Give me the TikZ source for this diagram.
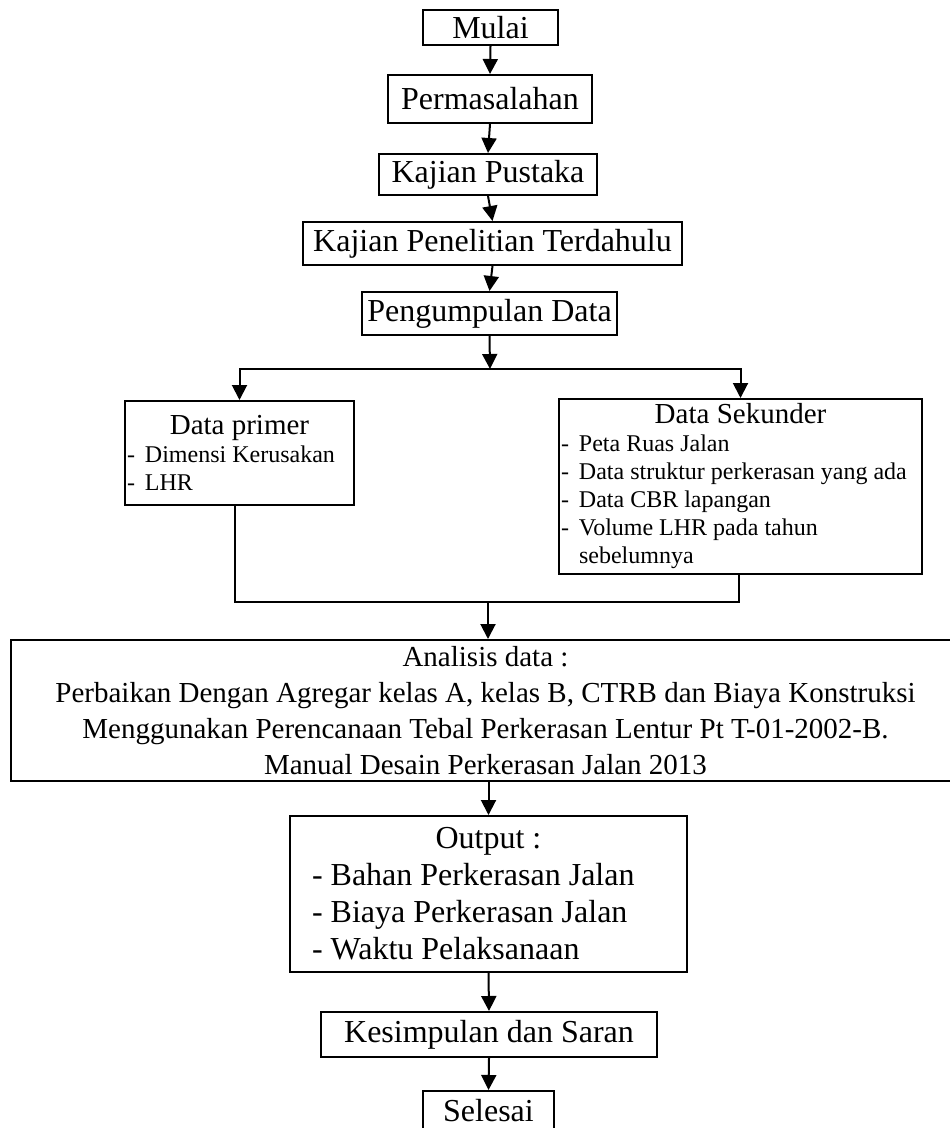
\documentclass[tikz,border=0pt]{standalone}
\usepackage{fontspec}
\setmainfont{Liberation Serif}
\usetikzlibrary{arrows.meta, positioning}

\newcommand\judul{\fontsize{14.5}{14}\selectfont}
\newcommand\isi{\fontsize{12}{14}\selectfont}
\newcommand\butir{\makebox[9pt][l]{-}}
\newcommand\polos{\spaceskip=0pt\xspaceskip=0pt\relax}

\begin{document}
\begin{tikzpicture}[
  x=0.5pt, y=-0.5pt,
  font=\fontsize{16}{18.5}\selectfont,
  kotak/.style={draw=black, line width=1pt, inner sep=0pt, align=center},
  daftar/.style={kotak, align=flush left, inner sep=1pt},
  panah/.style={draw=black, line width=1pt, -{Triangle[length=7.5pt,width=7.5pt]}},
  garis/.style={draw=black, line width=1pt}
]
\useasboundingbox (0,0) rectangle (949,1128);

\node[kotak, minimum width=67.5pt, minimum height=17.5pt] (mulai) at (490.5,27.5) {Mulai};
\node[kotak, minimum width=102pt, minimum height=24pt] (masalah) at (490,99) {Permasalahan};
\node[kotak, minimum width=109pt, minimum height=20.5pt] (pustaka) at (488,174.5) {Kajian Pustaka};
\node[kotak, minimum width=189.5pt, minimum height=21.5pt] (terdahulu) at (492.5,243.5) {Kajian Penelitian Terdahulu};
\node[kotak, minimum width=127.5pt, minimum height=21.5pt] (kumpul) at (489.5,313.5) {Pengumpulan Data};

\node[daftar, minimum width=114.5pt, minimum height=52pt, text width=112.5pt] (primer) at (239.5,453)
  {\polos{\centering\judul Data primer\par}\raggedright\isi\butir Dimensi Kerusakan\\ \butir LHR\par};
\node[daftar, minimum width=181.5pt, minimum height=87.5pt, text width=179.5pt] (sekunder) at (740.5,486.5)
  {\polos{\centering\judul Data Sekunder\par}\raggedright\isi\butir Peta Ruas Jalan\\ \butir Data struktur perkerasan yang ada\\
   \butir Data CBR lapangan\\ \butir Volume LHR pada tahun\\ \hspace*{9pt}sebelumnya\par};

\node[kotak, minimum width=474.5pt, minimum height=70.5pt, font=\fontsize{14.5}{18}\selectfont] (analisis) at (485.5,710.5)
  {Analisis data :\\ Perbaikan Dengan Agregar kelas A, kelas B, CTRB dan Biaya Konstruksi\\
   Menggunakan Perencanaan Tebal Perkerasan Lentur Pt T-01-2002-B.\\ Manual Desain Perkerasan Jalan 2013};

\node[daftar, minimum width=198.5pt, minimum height=78pt, text width=176.5pt, inner xsep=11pt, inner ysep=0pt] (output) at (488.5,894)
  {\polos{\centering Output :\par}\raggedright - Bahan Perkerasan Jalan\\ - Biaya Perkerasan Jalan\\ - Waktu Pelaksanaan\par};
\node[kotak, minimum width=168pt, minimum height=22.5pt] (simpul) at (489,1034.5) {Kesimpulan dan Saran};
\node[kotak, minimum width=65.5pt, minimum height=19.5pt] (selesai) at (488.5,1110.5) {Selesai};

\coordinate (cabang) at (490,369);
\coordinate (gabung) at (488,602);

\draw[panah] (mulai.south) -- (masalah.north);
\draw[panah] (masalah.south) -- (pustaka.north);
\draw[panah] (pustaka.south) -- (terdahulu.north);
\draw[panah] (terdahulu.south) -- (kumpul.north);
\draw[panah] (kumpul.south) -- (cabang);
\draw[panah] (cabang) -| (primer.north);
\draw[panah] (cabang) -| (sekunder.north);
\draw[garis] ([xshift=-2.25pt]primer.south) |- (gabung) -| ([xshift=-0.75pt]sekunder.south);
\draw[panah] (gabung) -- (gabung |- analisis.north);
\draw[panah] (output.north |- analisis.south) -- (output.north);
\draw[panah] (output.south) -- (simpul.north);
\draw[panah] (simpul.south) -- (selesai.north);

\end{tikzpicture}
\end{document}
